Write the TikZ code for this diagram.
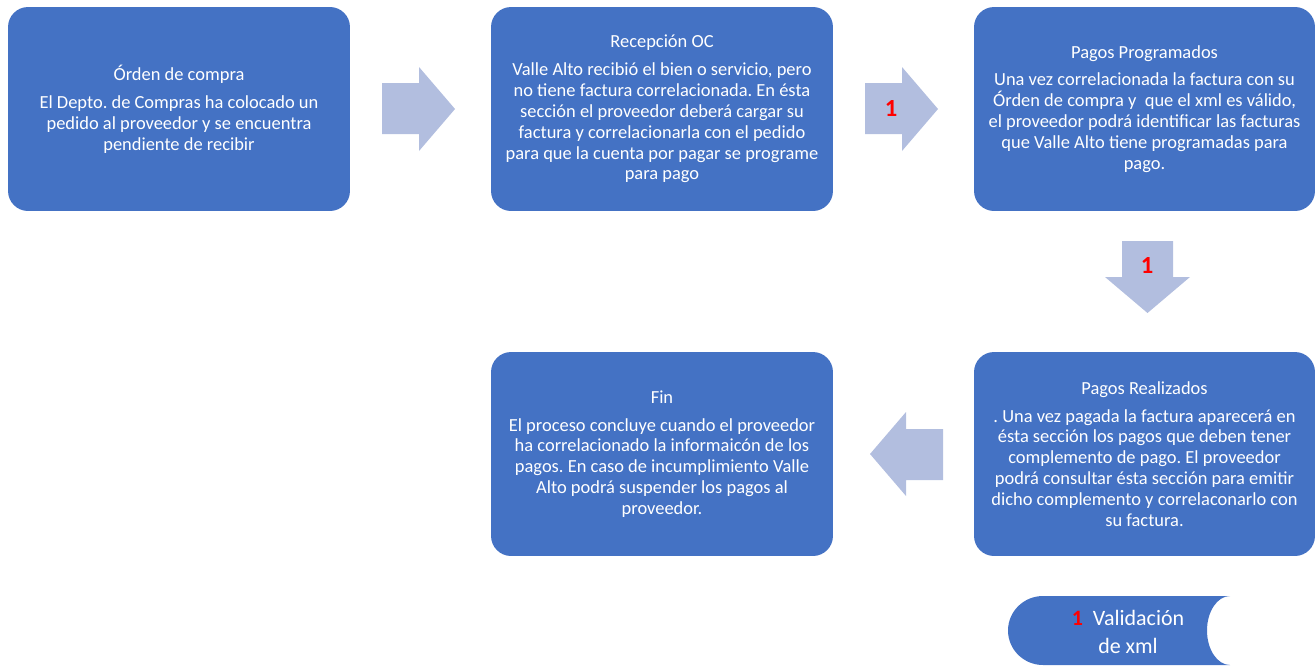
\documentclass[tikz,border=0pt]{standalone}
\usepackage{fontspec}
\setmainfont{Carlito}
\frenchspacing
\definecolor{boxblue}{HTML}{4472C4}
\definecolor{arrowblue}{HTML}{B2BEDF}
\definecolor{numred}{HTML}{FF0000}
\begin{document}
\begin{tikzpicture}[x=0.02cm,y=-0.02cm,
  box/.style={fill=boxblue, rounded corners=0.4cm, text=white, align=center,
    minimum width=6.84cm, minimum height=4.08cm, inner sep=0pt,
    font=\fontsize{10.5}{11.9}\selectfont},
  blockarrow/.style={fill=arrowblue},
  numlabel/.style={text=numred, font=\fontsize{14}{16}\selectfont\bfseries, inner sep=0pt},
  legendshape/.style={fill=boxblue}]
\useasboundingbox (0,0) rectangle (1315,666);

\node[box] (orden) at (179,109) {Órden de compra\\[4pt]El Depto. de Compras ha colocado un\\pedido al proveedor y se encuentra\\pendiente de recibir};
\node[box] (recep) at (662,109) {Recepción OC\\[4pt]Valle Alto recibió el bien o servicio, pero\\no tiene factura correlacionada. En ésta\\sección el proveedor deberá cargar su\\factura y correlacionarla con el pedido\\para que la cuenta por pagar se programe\\para pago};
\node[box, minimum width=6.82cm] (progr) at (1144.5,109) {Pagos Programados\\[4pt]Una vez correlacionada la factura con su\\Órden de compra y\ \ que el xml es válido,\\el proveedor podrá identificar las facturas\\que Valle Alto tiene programadas para\\pago.};
\node[box, minimum width=6.82cm] (realiz) at (1144.5,454) {Pagos Realizados\\[4pt]. Una vez pagada la factura aparecerá en\\ésta sección los pagos que deben tener\\complemento de pago. El proveedor\\podrá consultar ésta sección para emitir\\dicho complemento y correlaconarlo con\\su factura.};
\node[box] (fin) at (662,454) {Fin\\[4pt]El proceso concluye cuando el proveedor\\ha correlacionado la informaicón de los\\pagos. En caso de incumplimiento Valle\\Alto podrá suspender los pagos al\\proveedor.};

% block arrows
\fill[blockarrow] (382,83) -- (419,83) -- (419,67) -- (455,109) -- (419,151) -- (419,134) -- (382,134) -- cycle;
\fill[blockarrow] (865,83) -- (902,83) -- (902,67) -- (938,109) -- (902,151) -- (902,134) -- (865,134) -- cycle;
\fill[blockarrow] (1122,241) -- (1173,241) -- (1173,277) -- (1190,277) -- (1147.5,313) -- (1105,277) -- (1122,277) -- cycle;
\fill[blockarrow] (943,429) -- (906,429) -- (906,412) -- (870,454) -- (906,496) -- (906,480) -- (943,480) -- cycle;
\node[numlabel] (n1) at (891,109) {1};
\node[numlabel] (n2) at (1147,266) {1};

% legend
\fill[legendshape] (1043,596) -- (1230,596) arc[start angle=270, end angle=90, x radius=23, y radius=34.5]
  -- (1043,665) arc[start angle=90, end angle=270, x radius=35, y radius=34.5] -- cycle;
\node[text=white, align=center, font=\fontsize{12.5}{15.9}\selectfont, inner sep=0pt] (legend) at (1128,632)
  {{\color{numred}\bfseries 1}\ \ Validación\\de xml};
\end{tikzpicture}
\end{document}
